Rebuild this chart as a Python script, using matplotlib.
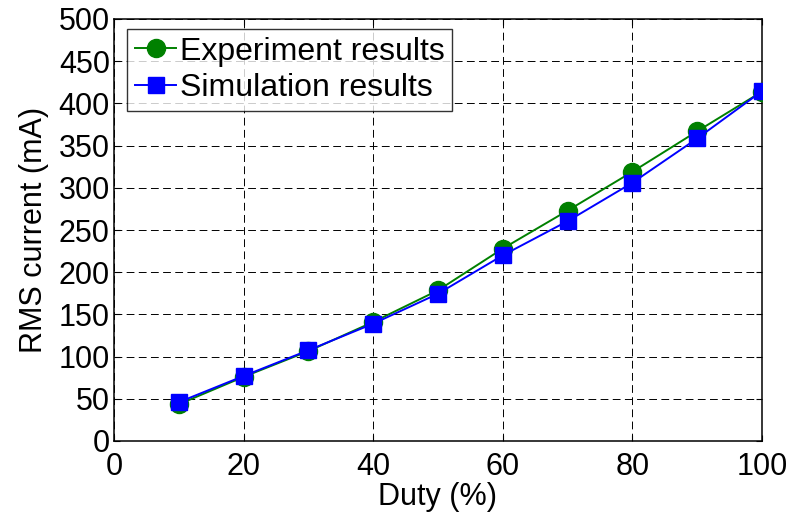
import matplotlib.pyplot as plt

plt.rcParams['font.family'] = ['Liberation Sans', 'DejaVu Sans']

duty = [10, 20, 30, 40, 50, 60, 70, 80, 90, 100]
experiment = [43.5, 76, 106.5, 141, 178.5, 228, 273, 319, 367, 414]
simulation = [46, 77, 107.5, 139, 174.5, 220, 260.5, 306, 358.5, 414.5]

fig = plt.figure(figsize=(7.95, 5.19), dpi=100)
ax = fig.add_axes([114 / 795, 1 - 441 / 519, 648 / 795, 422 / 519])

ax.plot(duty, experiment, color='green', lw=1.4, marker='o', ms=13,
        label='Experiment results', zorder=3)
ax.plot(duty, simulation, color='blue', lw=1.4, marker='s', ms=11,
        label='Simulation results', zorder=4)

ax.set_xlim(0, 100)
ax.set_ylim(0, 500)
ax.set_xticks(range(0, 101, 20))
ax.set_yticks(range(0, 501, 50))
ax.grid(True, color='black', ls=(0, (8, 4.5)), lw=0.7)
ax.tick_params(direction='in', length=4.5, width=0.8, labelsize=22,
               top=True, right=True, pad=3)
ax.tick_params(axis='x', pad=8)
for s in ax.spines.values():
    s.set_linewidth(1.1)

ax.set_xlabel('Duty (%)', fontsize=22, labelpad=0)
ax.set_ylabel('RMS current (mA)', fontsize=22, labelpad=7)

leg = ax.legend(loc='upper left', fontsize=23, frameon=True, fancybox=False,
                edgecolor='black', borderpad=0.25, labelspacing=0.2,
                handlelength=1.3, handletextpad=0.1, borderaxespad=0.3,
                bbox_to_anchor=(0.005, 1.0))
leg.get_frame().set_linewidth(1.0)

fig.savefig('out.png', dpi=100)
